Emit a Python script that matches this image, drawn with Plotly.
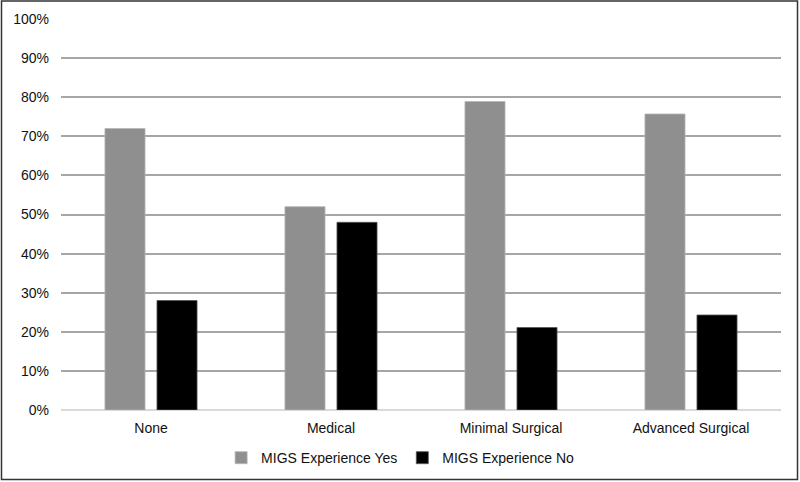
import plotly.graph_objects as go

categories = ["None", "Medical", "Minimal Surgical", "Advanced Surgical"]
migs_yes = [0.72, 0.52, 0.789, 0.757]
migs_no = [0.28, 0.48, 0.211, 0.243]
y_ticks = [0, 0.1, 0.2, 0.3, 0.4, 0.5, 0.6, 0.7, 0.8, 0.9, 1.0]
y_tick_labels = ["0%", "10%", "20%", "30%", "40%", "50%", "60%", "70%", "80%", "90%", "100%"]

font_family = "Liberation Sans, Arial, sans-serif"

fig = go.Figure()
fig.add_trace(go.Bar(
    x=categories, y=migs_yes, name="MIGS Experience Yes",
    marker=dict(color="#8f8f8f", line=dict(color="#b5b5b5", width=0.8)),
))
fig.add_trace(go.Bar(
    x=categories, y=migs_no, name="MIGS Experience No",
    marker=dict(color="#000000", line=dict(color="#555555", width=0.8)),
))

fig.update_layout(
    width=800, height=482,
    margin=dict(l=61, r=19, t=19, b=72, autoexpand=False),
    paper_bgcolor="white", plot_bgcolor="white",
    barmode="group", bargap=0.422, bargroupgap=0.23,
    font=dict(family=font_family, size=14, color="#111111"),
    showlegend=True,
    legend=dict(orientation="h", x=0.471, xanchor="center", y=-0.123, yanchor="middle",
                font=dict(size=14), itemwidth=30, traceorder="normal"),
    xaxis=dict(showgrid=False, showline=False, ticks="", tickfont=dict(size=14),
               ticklabelstandoff=8, automargin=False),
    yaxis=dict(range=[0, 1.0], tickvals=y_ticks, ticktext=y_tick_labels,
               showgrid=True, gridcolor="#a6a6a6", gridwidth=1.5,
               zeroline=True, zerolinecolor="#d9d9d9", zerolinewidth=1.5,
               showline=False, ticks="", ticklabelstandoff=11, tickfont=dict(size=14),
               automargin=False),
    shapes=[dict(type="rect", xref="paper", yref="paper",
                 x0=(1.5 - 61) / 720, x1=(797.5 - 61) / 720,
                 y0=(410 - 479.5) / 391, y1=(410 - 1) / 391,
                 line=dict(color="#333333", width=1.5), fillcolor="rgba(0,0,0,0)")],
)

fig.write_html("out.html", config={"displayModeBar": False},
               post_script="document.body.style.margin='0';document.body.style.overflow='hidden';")
